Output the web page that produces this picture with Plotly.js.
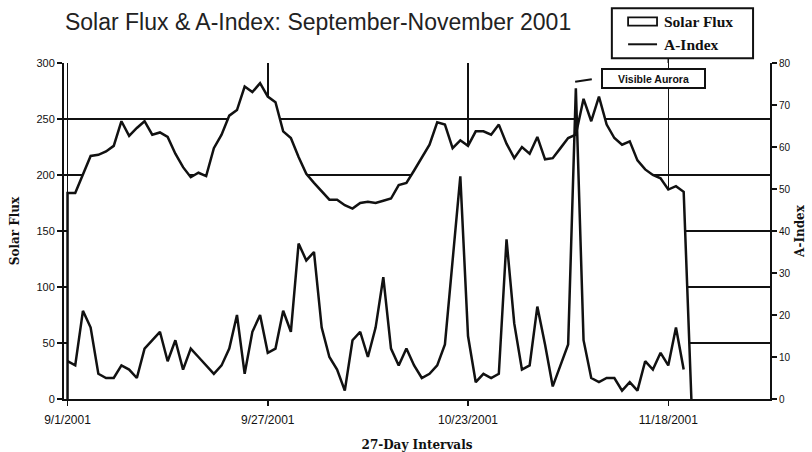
<!DOCTYPE html>
<html>
<head>
<meta charset="utf-8">
<script src="https://cdn.plot.ly/plotly-3.0.1.min.js"></script>
<style>
  html, body { margin: 0; padding: 0; background: #ffffff; }
  #chart { width: 812px; height: 452px; }
</style>
</head>
<body>
<div id="chart"></div>
<script>
// ---- data (daily values, starting 9/1/2001) ----
const startDay = '2001-09-01';
const solarFlux = [184,184,200,217,218,221,226,248,235,242,
                   248,236,238,234,219,207,198,202,199,224,
                   236,253,258,279,274,282,270,265,239,233,
                   216,201,193,185,178,178,173,170,175,176,
                   175,177,179,191,193,204,215,227,247,245,
                   224,231,226,239,239,236,245,228,215,225,
                   219,234,214,215,224,233,236,268,248,270,
                   245,233,227,230,213,205,200,197,187,190,
                   185,0];
const aIndex = [9,8,21,17,6,5,5,8,7,5,
                12,14,16,9,14,7,12,10,8,6,
                8,12,20,6,16,20,11,12,21,16,
                37,33,35,17,10,7,2,14,16,10,
                17,29,12,8,12,8,5,6,8,13,
                33,53,15,4,6,5,6,38,18,7,
                8,22,13,3,8,13,74,14,5,4,
                5,5,2,4,2,9,7,11,8,17,
                7];
const tickDates = ['2001-09-01','2001-09-27','2001-10-23','2001-11-18'];
const tickLabels = ['9/1/2001','9/27/2001','10/23/2001','11/18/2001'];
const seriesNames = ['Solar Flux','A-Index'];
const noteText = 'Visible Aurora';

// consecutive day categories
const dates = [];
{
  const base = new Date(startDay + 'T00:00:00Z');
  for (let i = 0; i < solarFlux.length; i++) {
    const d = new Date(base.getTime() + i * 86400000);
    dates.push(d.toISOString().slice(0, 10));
  }
}

const serif = 'DejaVu Serif, Liberation Serif, serif';
const sans = 'Liberation Sans, Arial, sans-serif';

// area outline closes down to zero at the first day
const fluxTrace = {
  x: [dates[0]].concat(dates),
  y: [0].concat(solarFlux),
  type: 'scatter', mode: 'lines',
  name: seriesNames[0],
  fill: 'tozeroy', fillcolor: '#ffffff',
  line: { color: '#111111', width: 2.5 },
  hoverinfo: 'skip', showlegend: false
};
const aTrace = {
  x: dates.slice(0, aIndex.length),
  y: aIndex,
  type: 'scatter', mode: 'lines',
  name: seriesNames[1],
  yaxis: 'y2',
  line: { color: '#111111', width: 2.5 },
  showlegend: false
};

const axisCommon = {
  showline: true, linecolor: '#111111', linewidth: 2,
  ticks: 'outside', ticklen: 5, tickwidth: 1.5, tickcolor: '#111111',
  zeroline: false
};

const layout = {
  width: 812, height: 452,
  margin: { l: 64, r: 42, t: 63, b: 53 },
  paper_bgcolor: '#ffffff', plot_bgcolor: '#ffffff',
  title: {
    text: 'Solar Flux &amp; A-Index: September-November 2001',
    x: 0.08, xanchor: 'left', xref: 'container',
    y: 0.951, yanchor: 'middle', yref: 'container',
    font: { family: 'Liberation Sans, Arial, sans-serif', size: 23, color: '#222222' }
  },
  xaxis: Object.assign({}, axisCommon, {
    type: 'date',
    range: ['2001-08-31 13:00', '2001-12-01 05:00'],
    tickmode: 'array', tickvals: tickDates, ticktext: tickLabels,
    ticklabelstandoff: 4,
    showgrid: true, gridcolor: '#111111', gridwidth: 1.5,
    tickfont: { family: sans, size: 12, color: '#111111' },
    title: { text: '27-Day Intervals', standoff: 14,
             font: { family: serif, size: 12, color: '#111111', weight: 'bold' } }
  }),
  yaxis: Object.assign({}, axisCommon, {
    range: [0, 300], tick0: 0, dtick: 50,
    showgrid: true, gridcolor: '#111111', gridwidth: 1.5,
    tickfont: { family: sans, size: 11, color: '#111111' },
    title: { text: seriesNames[0], standoff: 14,
             font: { family: serif, size: 12, color: '#111111', weight: 'bold' } }
  }),
  yaxis2: Object.assign({}, axisCommon, {
    overlaying: 'y', side: 'right',
    range: [0, 80], tick0: 0, dtick: 10,
    showgrid: false,
    tickfont: { family: sans, size: 10, color: '#111111' },
    title: { text: seriesNames[1], standoff: 6,
             font: { family: serif, size: 12, color: '#111111', weight: 'bold' } }
  }),
  shapes: [
    // legend frame
    { type: 'rect', xref: 'paper', yref: 'paper', x0: 0.776, x1: 0.976, y0: 1.014, y1: 1.163,
      line: { color: '#111111', width: 2 }, fillcolor: '#ffffff', layer: 'above' },
    // legend symbols
    { type: 'rect', xref: 'paper', yref: 'paper', x0: 0.799, x1: 0.840, y0: 1.111, y1: 1.136,
      line: { color: '#111111', width: 1.8 }, fillcolor: '#ffffff', layer: 'above' },
    { type: 'line', xref: 'paper', yref: 'paper', x0: 0.799, x1: 0.840, y0: 1.0557, y1: 1.0557,
      line: { color: '#111111', width: 2 }, layer: 'above' },
    // connector between legend and plot
    { type: 'line', xref: 'x', yref: 'paper', x0: tickDates[3], x1: tickDates[3], y0: 1.0, y1: 1.014,
      line: { color: '#111111', width: 1.5 }, layer: 'above' },
    // aurora leader
    { type: 'line', xref: 'paper', yref: 'paper', x0: 0.724, x1: 0.7476, y0: 0.944, y1: 0.9515,
      line: { color: '#111111', width: 2 }, layer: 'above' }
  ],
  annotations: [
    { text: seriesNames[0], xref: 'paper', yref: 'paper', x: 0.8467, y: 1.125,
      xanchor: 'left', yanchor: 'middle', showarrow: false,
      font: { family: 'Liberation Serif, serif', size: 15.5, color: '#111111', weight: 'bold' } },
    { text: seriesNames[1], xref: 'paper', yref: 'paper', x: 0.8467, y: 1.0557,
      xanchor: 'left', yanchor: 'middle', showarrow: false,
      font: { family: 'Liberation Serif, serif', size: 15.5, color: '#111111', weight: 'bold' } },
    { text: noteText, xref: 'paper', yref: 'paper', x: 0.8347, y: 0.953,
      xanchor: 'center', yanchor: 'middle', showarrow: false,
      width: 101, height: 17, borderpad: 0, borderwidth: 2, bordercolor: '#111111',
      bgcolor: '#ffffff',
      font: { family: sans, size: 10.5, color: '#111111', weight: 'bold' } }
  ]
};

Plotly.newPlot('chart', [fluxTrace, aTrace], layout, { displayModeBar: false, staticPlot: true });
</script>
</body>
</html>
